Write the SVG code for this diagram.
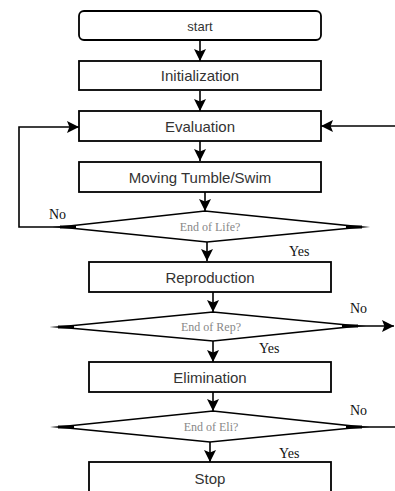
<svg xmlns="http://www.w3.org/2000/svg" width="395" height="491" viewBox="0 0 395 491">
<defs>
<marker id="ah" viewBox="0 0 10 10" refX="10" refY="5" markerWidth="12" markerHeight="12" markerUnits="userSpaceOnUse" orient="auto">
<path d="M0,0 L10,5 L0,10 L2,5 Z" fill="#000"/>
</marker>
<style>
.box{fill:#fff;stroke:#000;stroke-width:1.8}
.dia{fill:#fff;stroke:#000;stroke-width:1.6;stroke-linejoin:miter;stroke-miterlimit:40}
.lbl{font-family:"Liberation Sans",Arial,sans-serif;font-size:15px;fill:#333;text-anchor:middle}
.dlbl{font-family:"Liberation Serif","Times New Roman",serif;font-size:12px;fill:#888;text-anchor:middle}
.yn{font-family:"Liberation Serif","Times New Roman",serif;font-size:14px;fill:#111}
.c{fill:none;stroke:#000;stroke-width:1.6}
.tip{stroke:#000;stroke-width:3}
</style>
</defs>
<rect width="395" height="491" fill="#fff"/>
<g id="connectors">
<line class="c" x1="200" y1="41" x2="200" y2="61" marker-end="url(#ah)"/>
<line class="c" x1="200" y1="91" x2="200" y2="111" marker-end="url(#ah)"/>
<line class="c" x1="200" y1="141" x2="200" y2="161" marker-end="url(#ah)"/>
<line class="c" x1="205" y1="192" x2="205" y2="211" marker-end="url(#ah)"/>
<line class="c" x1="207" y1="242" x2="207" y2="261" marker-end="url(#ah)"/>
<line class="c" x1="213" y1="292" x2="213" y2="312" marker-end="url(#ah)"/>
<line class="c" x1="213" y1="341" x2="213" y2="362" marker-end="url(#ah)"/>
<line class="c" x1="213" y1="392" x2="213" y2="411" marker-end="url(#ah)"/>
<line class="c" x1="210" y1="442" x2="210" y2="462" marker-end="url(#ah)"/>
<polyline class="c" points="60,227 19,227 19,127 79,127" marker-end="url(#ah)"/>
<line class="c" x1="395" y1="126" x2="321" y2="126" marker-end="url(#ah)"/>
<line class="c" x1="358" y1="326" x2="394" y2="326" marker-end="url(#ah)"/>
<line class="c" x1="360" y1="427" x2="395" y2="427"/>
</g>
<g id="start"><rect class="box" x="79" y="11" width="242" height="29" rx="5"/><text class="lbl" x="200" y="31" style="font-size:13px">start</text></g>
<g id="init"><rect class="box" x="79" y="61" width="242" height="29"/><text class="lbl" x="200" y="81">Initialization</text></g>
<g id="eval"><rect class="box" x="79" y="111" width="242" height="30"/><text class="lbl" x="200" y="132">Evaluation</text></g>
<g id="move"><rect class="box" x="79" y="162" width="242" height="30"/><text class="lbl" x="200" y="183">Moving Tumble/Swim</text></g>
<g id="d1"><polygon class="dia" points="60,227 205,211 362,227 207,242"/><line class="tip" x1="60" y1="227" x2="76" y2="227"/><line class="tip" x1="346" y1="227" x2="362" y2="227"/><text class="dlbl" x="210" y="231">End of Life?</text></g>
<text class="yn" x="49" y="219">No</text>
<text class="yn" x="289" y="256">Yes</text>
<g id="repro"><rect class="box" x="89" y="262" width="242" height="30"/><text class="lbl" x="210" y="283">Reproduction</text></g>
<g id="d2"><polygon class="dia" points="58,327 213,312 358,326 213,341"/><line class="tip" x1="58" y1="327" x2="74" y2="327"/><line class="tip" x1="342" y1="326" x2="358" y2="326"/><text class="dlbl" x="211" y="331">End of Rep?</text></g>
<text class="yn" x="350" y="313">No</text>
<text class="yn" x="259" y="353">Yes</text>
<g id="elim"><rect class="box" x="89" y="362" width="242" height="30"/><text class="lbl" x="210" y="383">Elimination</text></g>
<g id="d3"><polygon class="dia" points="58,427 213,411 362,427 210,442"/><line class="tip" x1="58" y1="427" x2="74" y2="427"/><line class="tip" x1="346" y1="427" x2="362" y2="427"/><text class="dlbl" x="211" y="431">End of Eli?</text></g>
<text class="yn" x="350" y="415">No</text>
<text class="yn" x="279" y="458">Yes</text>
<g id="stop"><rect class="box" x="89" y="462" width="242" height="32"/><text class="lbl" x="210" y="484">Stop</text></g>
</svg>
